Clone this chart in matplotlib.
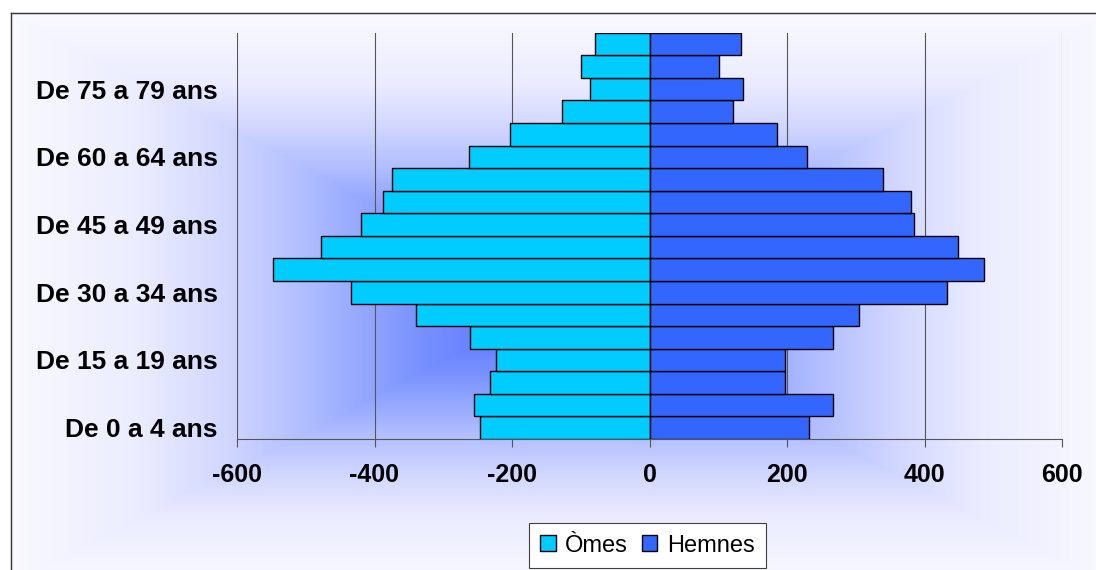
import numpy as np
import matplotlib
matplotlib.use("Agg")
import matplotlib.pyplot as plt

plt.rcParams['font.family'] = ['Liberation Sans', 'DejaVu Sans']
plt.rcParams['axes.unicode_minus'] = False

# ======================================================
# Data (bottom to top)
# ======================================================
categories = [
    "De 0 a 4 ans", "De 5 a 9 ans", "De 10 a 14 ans", "De 15 a 19 ans",
    "De 20 a 24 ans", "De 25 a 29 ans", "De 30 a 34 ans", "De 35 a 39 ans",
    "De 40 a 44 ans", "De 45 a 49 ans", "De 50 a 54 ans", "De 55 a 59 ans",
    "De 60 a 64 ans", "De 65 a 69 ans", "De 70 a 74 ans", "De 75 a 79 ans",
    "De 80 a 84 ans", "De 85 ans e mai",
]
omes = [-246, -255, -232, -223, -261, -339, -434, -548, -478,
        -420, -388, -374, -263, -203, -127, -87, -99, -79]
hemnes = [232, 267, 197, 197, 267, 304, 432, 487, 449,
          385, 380, 339, 229, 186, 122, 136, 101, 133]
x_ticks = [-600, -400, -200, 0, 200, 400, 600]
shown_every = 3

W, H = 1096, 570
fig = plt.figure(figsize=(W / 100, H / 100), dpi=100)

# ======================================================
# Background: rectangular "from center" gradient
# ======================================================
bg = fig.add_axes([0, 0, 1, 1], zorder=0)
yy, xx = np.mgrid[0:H, 0:W]
t = np.maximum(np.abs(xx - 560) / 560.0, np.abs(yy - 300) / 290.0).clip(0, 1)
stops = [0.0, 0.25, 0.45, 0.6, 0.75, 1.0]
r = np.interp(t, stops, [80, 120, 175, 210, 235, 250])
g = np.interp(t, stops, [105, 145, 188, 215, 236, 250])
b = np.interp(t, stops, [255, 255, 255, 255, 255, 254])
img = np.dstack([r, g, b]) / 255.0
outside = (xx < 10) | (yy < 12)
img[outside] = 1.0
bg.imshow(img, extent=(0, W, H, 0), aspect='auto', interpolation='bilinear')
bg.plot([10.5, 10.5], [H, 12.5], color='#333333', lw=1.0)
bg.plot([10.5, W], [12.5, 12.5], color='#333333', lw=1.0)
bg.set_xlim(0, W)
bg.set_ylim(H, 0)
bg.axis('off')

# ======================================================
# Pyramid
# ======================================================
ax = fig.add_axes([237 / W, 1 - 439 / H, (1062 - 237) / W, (439 - 32.7) / H], zorder=1)
ax.patch.set_alpha(0)
y = np.arange(len(categories))
ax.barh(y, omes, height=1.0, color='#00CCFF', edgecolor='black', lw=1.0,
        label='Òmes', zorder=3)
ax.barh(y, hemnes, height=1.0, color='#3366FF', edgecolor='black', lw=1.0,
        label='Hemnes', zorder=3)

ax.set_xlim(-600, 600)
ax.set_ylim(-0.5, len(categories) - 0.5)
ax.set_xticks(x_ticks)
ax.set_xticklabels([str(v) for v in x_ticks], fontsize=18, fontweight='bold')
ax.set_yticks(y[::shown_every])
ax.set_yticklabels(categories[::shown_every], fontsize=19, fontweight='bold')
ax.xaxis.grid(True, color='#555555', lw=0.8, zorder=0)
ax.set_axisbelow(True)
for side in ['top', 'right', 'left']:
    ax.spines[side].set_visible(False)
ax.spines['bottom'].set_color('#555555')
ax.spines['bottom'].set_linewidth(0.8)
ax.tick_params(axis='x', length=6, width=0.8, color='#555555', pad=11)
ax.tick_params(axis='y', length=0, pad=14)

leg = fig.legend(loc='center', bbox_to_anchor=(647.5 / W, 1 - 545.5 / H), ncol=2,
                 fontsize=17, frameon=True, fancybox=False, edgecolor='#404040',
                 framealpha=1, handlelength=0.65, handleheight=0.65,
                 handletextpad=0.4, columnspacing=0.6, borderpad=0.5)
leg.get_frame().set_linewidth(0.8)

fig.savefig("out.png", dpi=100)
